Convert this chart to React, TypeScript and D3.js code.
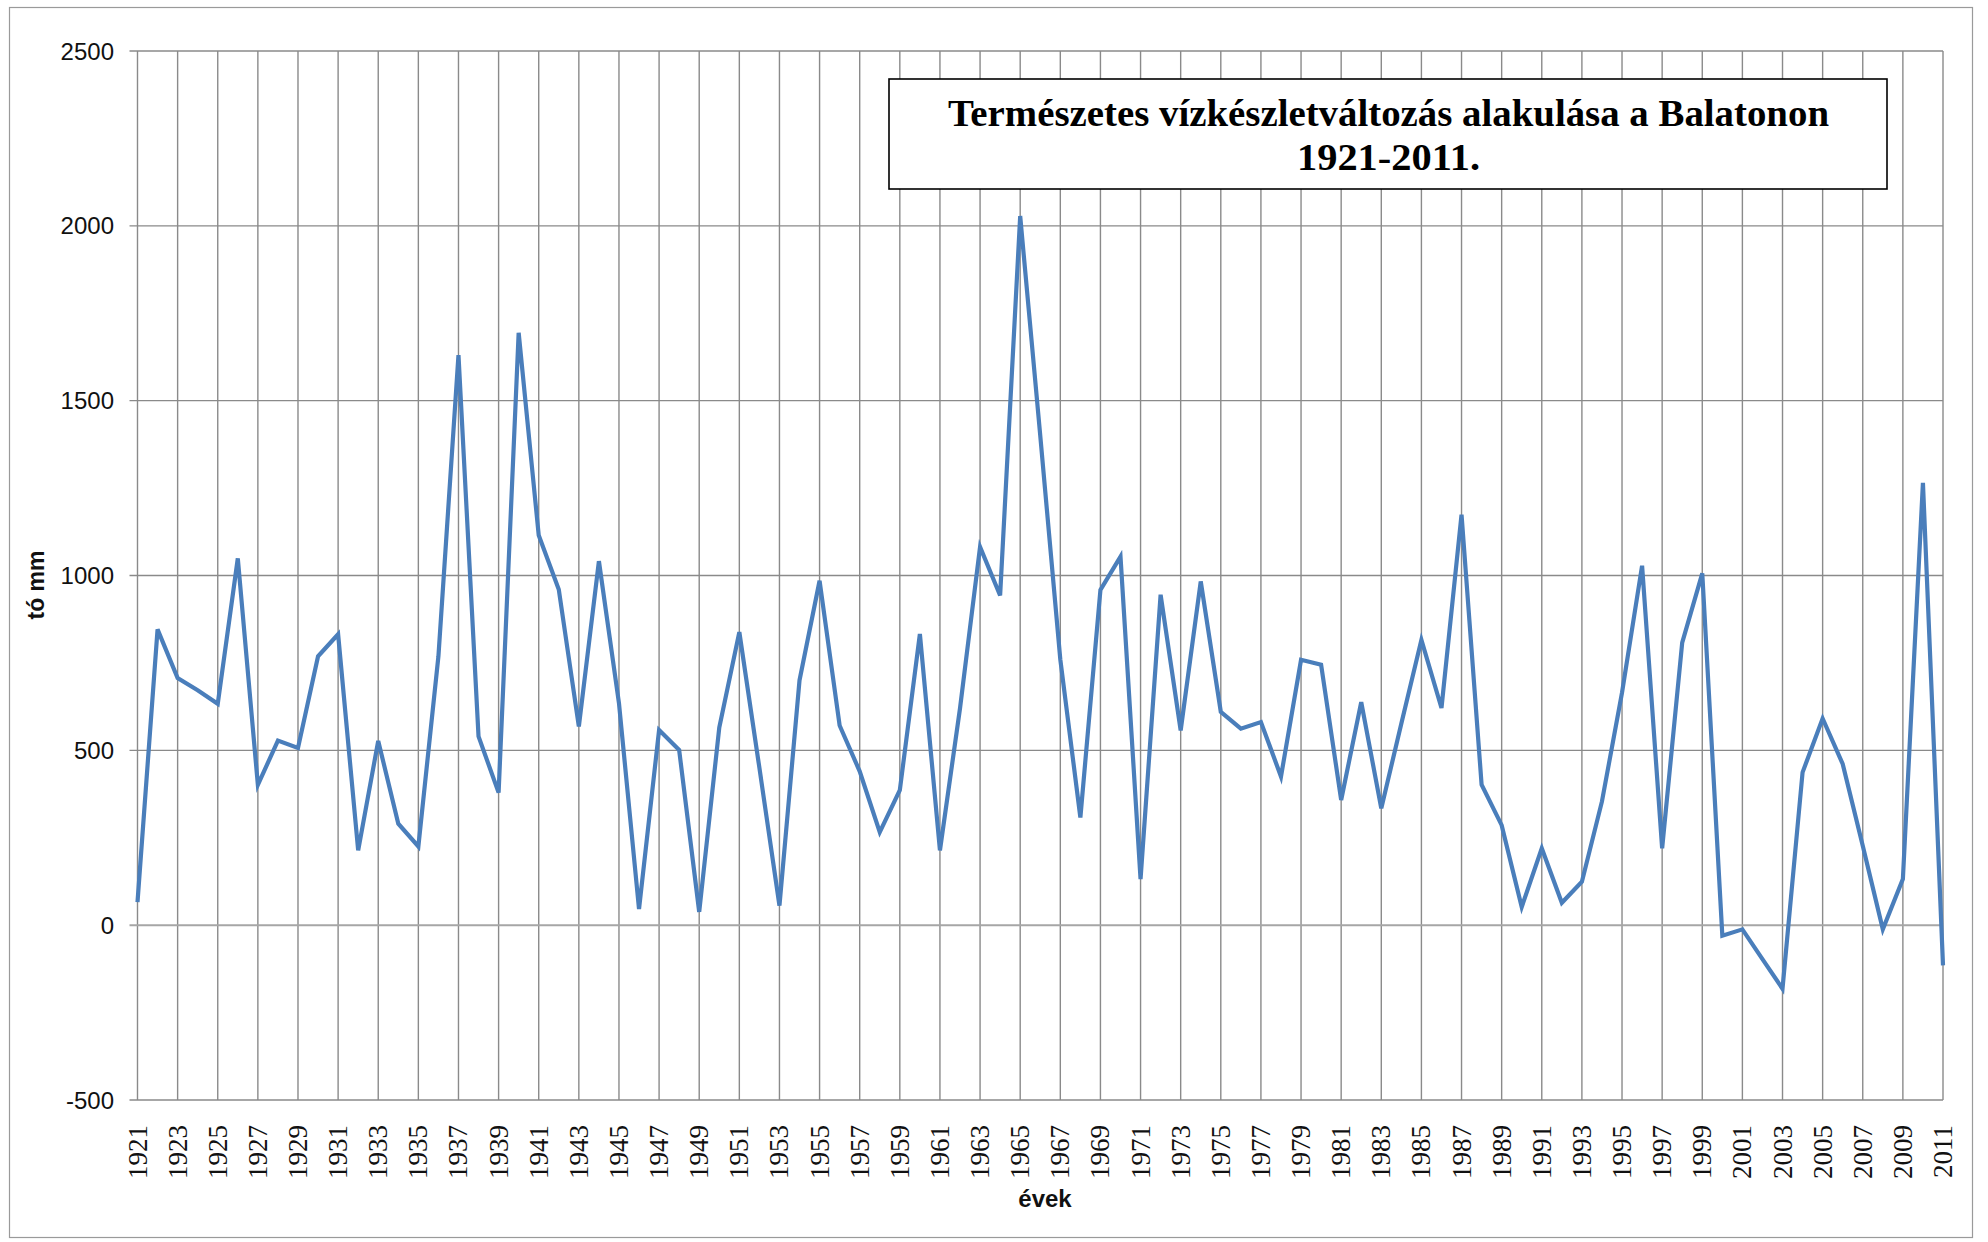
import { useEffect, useRef } from "react";
import * as d3 from "d3";

const START_YEAR = 1921;
const END_YEAR = 2011;
const YEARS = d3.range(START_YEAR, END_YEAR + 1);

// tó mm, 1921..2011
const VALUES = [
  66, 846, 707, 672, 633, 1049, 401, 528, 507, 769,
  832, 214, 527, 290, 225, 769, 1630, 540, 379, 1694,
  1115, 960, 568, 1041, 635, 46, 558, 501, 38, 565,
  838, 450, 56, 700, 985, 571, 440, 266, 386, 833,
  214, 620, 1082, 943, 2028, 1400, 760, 308, 959, 1054,
  132, 945, 557, 983, 610, 562, 581, 425, 759, 745,
  358, 638, 334, 577, 816, 621, 1174, 402, 286, 52,
  220, 64, 124, 354, 665, 1028, 220, 808, 1006, -30,
  -12, -97, -182, 437, 591, 461, 227, -12, 132, 1265,
  -115,
];

const Y_TICKS = [-500, 0, 500, 1000, 1500, 2000, 2500];
const TITLE_LINES = ["Természetes vízkészletváltozás alakulása a Balatonon", "1921-2011."];
const Y_LABEL = "tó mm";
const X_LABEL = "évek";

export default function App() {
  const ref = useRef<HTMLDivElement>(null);

  useEffect(() => {
    if (!ref.current) return;
    const container = ref.current;
    d3.select(container).select("svg").remove();

    const width = 1988;
    const height = 1242;
    const marginLeft = 137.5;
    const marginRight = 45;
    const marginTop = 51;
    const plotBottom = 1100;

    const data = YEARS.map((year, i) => ({ year, value: VALUES[i] }));

    const x = d3.scalePoint<number>()
      .domain(YEARS)
      .range([marginLeft, width - marginRight]);

    const y = d3.scaleLinear()
      .domain([-500, 2500])
      .range([plotBottom, marginTop]);

    const svg = d3.create("svg")
      .attr("width", width)
      .attr("height", height)
      .attr("viewBox", [0, 0, width, height])
      .attr("style", "position:absolute;left:0;top:0;background:#fff");

    // outer chart border
    svg.append("rect")
      .attr("x", 9.5).attr("y", 7.5)
      .attr("width", 1963).attr("height", 1230)
      .attr("fill", "#fff")
      .attr("stroke", "#9a9a9a")
      .attr("stroke-width", 1.2);

    const labelYears = YEARS.filter(d => (d - START_YEAR) % 2 === 0);

    // vertical gridlines
    svg.append("g")
      .attr("stroke", "#8a8a8a")
      .attr("stroke-width", 1.4)
      .selectAll("line")
      .data(labelYears)
      .join("line")
        .attr("x1", d => x(d)!)
        .attr("x2", d => x(d)!)
        .attr("y1", marginTop)
        .attr("y2", plotBottom);

    // horizontal gridlines + ticks
    svg.append("g")
      .selectAll("line")
      .data(Y_TICKS)
      .join("line")
        .attr("x1", marginLeft - 8)
        .attr("x2", width - marginRight)
        .attr("y1", d => y(d))
        .attr("y2", d => y(d))
        .attr("stroke", d => d === 0 ? "#a6a6a6" : "#8a8a8a")
        .attr("stroke-width", d => d === 0 ? 2 : 1.4);

    // y tick labels
    svg.append("g")
      .attr("font-family", "'Liberation Sans', Arial, sans-serif")
      .attr("font-size", 24)
      .attr("fill", "#111")
      .attr("text-anchor", "end")
      .selectAll("text")
      .data(Y_TICKS)
      .join("text")
        .attr("x", 114)
        .attr("y", d => y(d))
        .attr("dy", "0.36em")
        .text(d => String(d));

    // x tick labels (rotated)
    svg.append("g")
      .attr("font-family", "'Liberation Serif', 'Times New Roman', serif")
      .attr("font-size", 27)
      .attr("fill", "#111")
      .attr("text-anchor", "end")
      .selectAll("text")
      .data(labelYears)
      .join("text")
        .attr("transform", d => `translate(${x(d)! + 9},1125) rotate(-90)`)
        .text(d => String(d));

    // axis titles
    svg.append("text")
      .attr("transform", "translate(44,585) rotate(-90)")
      .attr("text-anchor", "middle")
      .attr("font-family", "'Liberation Sans', Arial, sans-serif")
      .attr("font-weight", "bold")
      .attr("font-size", 23)
      .attr("fill", "#111")
      .text(Y_LABEL);

    svg.append("text")
      .attr("x", 1045)
      .attr("y", 1207)
      .attr("text-anchor", "middle")
      .attr("font-family", "'Liberation Sans', Arial, sans-serif")
      .attr("font-weight", "bold")
      .attr("font-size", 24)
      .attr("fill", "#111")
      .text(X_LABEL);

    // data line
    const line = d3.line<{ year: number; value: number }>()
      .x(d => x(d.year)!)
      .y(d => y(d.value));

    svg.append("path")
      .datum(data)
      .attr("fill", "none")
      .attr("stroke", "#4a7ebb")
      .attr("stroke-width", 4.2)
      .attr("stroke-linejoin", "miter")
      .attr("stroke-miterlimit", 4)
      .attr("d", line);

    // title box
    const box = svg.append("g");
    box.append("rect")
      .attr("x", 889).attr("y", 79)
      .attr("width", 998).attr("height", 110)
      .attr("fill", "#fff")
      .attr("stroke", "#000")
      .attr("stroke-width", 1.6);

    box.append("text")
      .attr("x", 948).attr("y", 126)
      .attr("font-family", "'Liberation Serif', 'Times New Roman', serif")
      .attr("font-weight", "bold")
      .attr("font-size", 37)
      .attr("textLength", 881)
      .attr("lengthAdjust", "spacingAndGlyphs")
      .attr("fill", "#000")
      .text(TITLE_LINES[0]);

    box.append("text")
      .attr("x", 1297).attr("y", 170)
      .attr("font-family", "'Liberation Serif', 'Times New Roman', serif")
      .attr("font-weight", "bold")
      .attr("font-size", 37)
      .attr("textLength", 183)
      .attr("lengthAdjust", "spacingAndGlyphs")
      .attr("fill", "#000")
      .text(TITLE_LINES[1]);

    container.append(svg.node()!);
  }, []);

  return <div ref={ref} />;
}
